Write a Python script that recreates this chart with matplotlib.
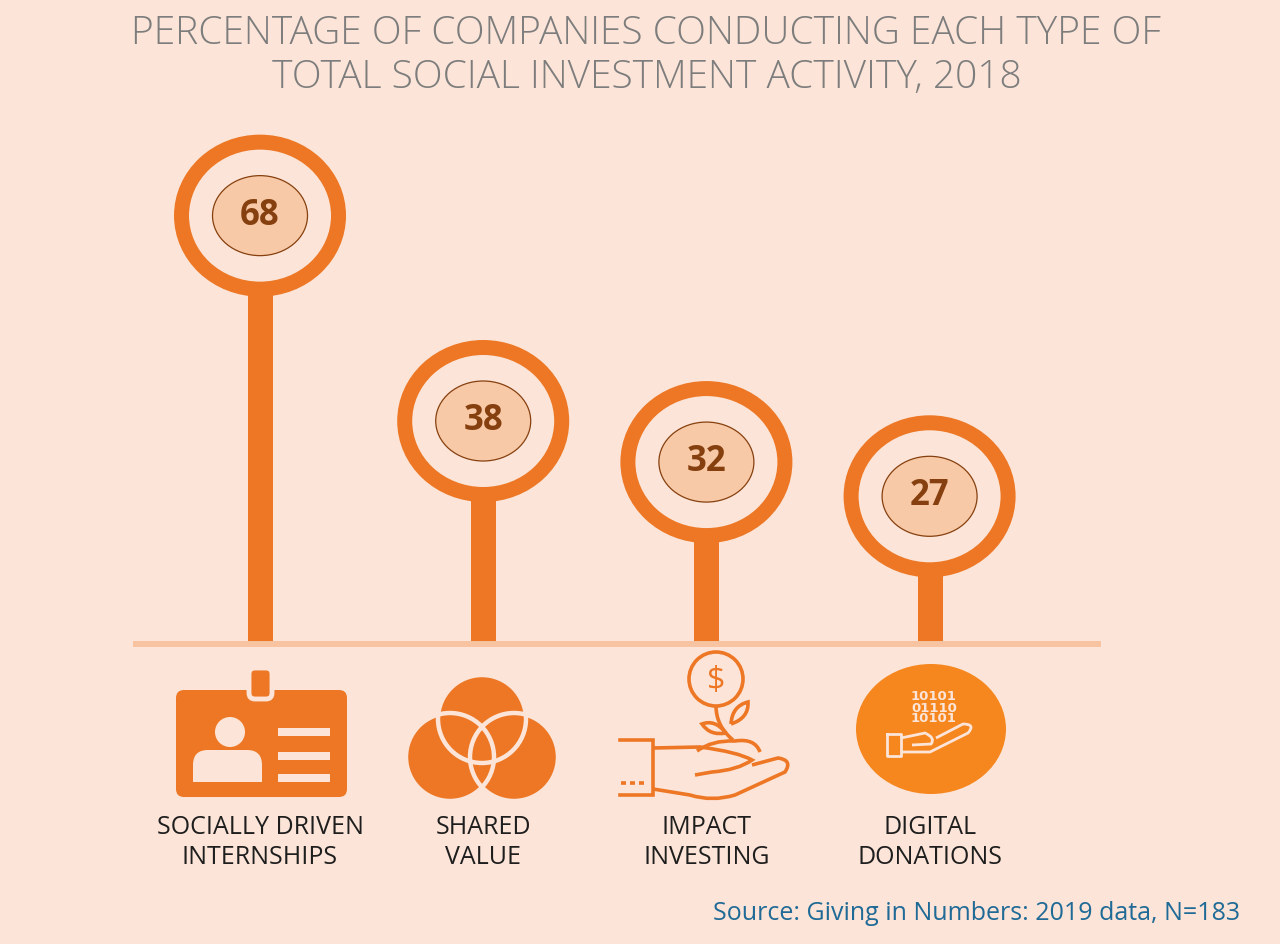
import matplotlib
matplotlib.use("Agg")
import matplotlib.pyplot as plt
from matplotlib.patches import Ellipse, Circle, Rectangle, FancyBboxPatch, PathPatch
from matplotlib.path import Path

plt.rcParams["font.family"] = ["Open Sans", "DejaVu Sans"]

# data
categories = ["SOCIALLY DRIVEN\nINTERNSHIPS", "SHARED\nVALUE", "IMPACT\nINVESTING", "DIGITAL\nDONATIONS"]
values = [68, 38, 32, 27]
title = "PERCENTAGE OF COMPANIES CONDUCTING EACH TYPE OF\nTOTAL SOCIAL INVESTMENT ACTIVITY, 2018"
source = "Source: Giving in Numbers: 2019 data, N=183"

BG = "#fce5d8"
ORANGE = "#ed7724"
PEACH = "#f8c9a7"
BROWN = "#86400f"
BASELINE = "#f7c3a0"

W, H = 1280, 944
fig = plt.figure(figsize=(W / 100, H / 100), dpi=100)
fig.patch.set_facecolor(BG)

# main axes: x = category index, y = percentage
ax = fig.add_axes([0, 0, 1, 1])
ax.set_xlim(-1.165, 4.57)
ax.set_ylim(-38.4, 99.5)
ax.axis("off")
px_x = W / (4.57 + 1.165)
px_y = H / (99.5 + 38.4)
base = 5.43

xs = list(range(len(values)))
ax.vlines(xs, base, values, color=ORANGE, lw=18, zorder=2)
ax.hlines(base, -0.57, 3.77, color=BASELINE, lw=4.3, zorder=3)

for xi, v in zip(xs, values):
    ax.add_patch(Ellipse((xi, v), (172 - 15) / px_x, (162 - 15) / px_y,
                         fc=BG, ec=ORANGE, lw=10.8, zorder=4))
    ax.add_patch(Ellipse((xi, v), 95 / px_x, 80 / px_y,
                         fc=PEACH, ec=BROWN, lw=0.9, zorder=5))
    ax.text(xi, v, str(v), ha="center", va="center", fontsize=25,
            fontweight="bold", color=BROWN, zorder=6)

for xi, lab in zip(xs, categories):
    ax.text(xi, -23.6, lab, ha="center", va="center", fontsize=18,
            color="#1e1e1e", linespacing=1.25)

fig.text(0.505, 1 - 56 / H, title, ha="center", va="center", fontsize=28,
         color="#7d7d7d", fontweight="light", linespacing=1.2)
fig.text(1240 / W, 1 - 914 / H, source, ha="right", va="center", fontsize=18,
         color="#1f6a96")

# icons drawn in a pixel overlay
ic = fig.add_axes([0, 0, 1, 1])
ic.set_xlim(0, W)
ic.set_ylim(H, 0)
ic.axis("off")
ic.patch.set_alpha(0)

# id badge
ic.add_patch(FancyBboxPatch((176, 690), 171, 107, boxstyle="round,pad=0,rounding_size=8", fc=ORANGE, ec="none"))
ic.add_patch(FancyBboxPatch((249, 668), 23, 31, boxstyle="round,pad=0,rounding_size=6", fc=ORANGE, ec=BG, lw=3.5))
ic.add_patch(Circle((230, 732), 15, fc=BG, ec="none"))
ic.add_patch(FancyBboxPatch((193, 750), 69, 32, boxstyle="round,pad=0,rounding_size=15", fc=BG, ec="none"))
ic.add_patch(Rectangle((193, 766), 69, 16, fc=BG, ec="none"))
for yb in (728, 752, 774):
    ic.add_patch(Rectangle((278, yb), 52, 8, fc=BG, ec="none"))

# venn
venn = [(482, 719), (450, 757), (514, 757)]
for c in venn:
    ic.add_patch(Circle(c, 44, fc=ORANGE, ec="none"))
for c in venn:
    ic.add_patch(Circle(c, 44, fc="none", ec=BG, lw=3.2))

# impact investing (line art)
LW = 2.6
ic.add_patch(Circle((716, 679), 27, fc="none", ec=ORANGE, lw=LW))
ic.text(716, 681, "$", ha="center", va="center", fontsize=23, color=ORANGE)
stem = Path([(716, 706), (716, 726), (733, 740)], [Path.MOVETO, Path.CURVE3, Path.CURVE3])
ic.add_patch(PathPatch(stem, fc="none", ec=ORANGE, lw=LW))
leaf_r = Path([(731, 724), (732, 706), (748, 702), (749, 718), (731, 724)],
              [Path.MOVETO, Path.CURVE3, Path.CURVE3, Path.CURVE3, Path.CURVE3])
ic.add_patch(PathPatch(leaf_r, fc="none", ec=ORANGE, lw=LW))
leaf_l = Path([(726, 733), (715, 719), (702, 724), (710, 736), (726, 733)],
              [Path.MOVETO, Path.CURVE3, Path.CURVE3, Path.CURVE3, Path.CURVE3])
ic.add_patch(PathPatch(leaf_l, fc="none", ec=ORANGE, lw=LW))
mound = Path([(697, 751), (712, 740), (735, 741), (755, 738), (760, 752)],
             [Path.MOVETO, Path.CURVE3, Path.CURVE3, Path.CURVE3, Path.CURVE3])
ic.add_patch(PathPatch(mound, fc="none", ec=ORANGE, lw=LW))
ic.plot([620, 653, 653, 620], [740, 740, 795, 795], color=ORANGE, lw=LW, solid_joinstyle="miter")
for xd in (621, 630, 639):
    ic.plot([xd, xd + 5], [783, 783], color=ORANGE, lw=LW, solid_capstyle="butt")
palm_top = Path([(653, 748), (700, 747), (738, 752), (752, 760), (738, 770), (712, 772), (695, 775)],
                [Path.MOVETO, Path.LINETO, Path.CURVE3, Path.CURVE3, Path.CURVE3, Path.CURVE3, Path.LINETO])
ic.add_patch(PathPatch(palm_top, fc="none", ec=ORANGE, lw=LW))
palm_bot = Path([(653, 789), (690, 795), (712, 802), (735, 795), (785, 772), (793, 760), (778, 758), (752, 765)],
                [Path.MOVETO, Path.LINETO, Path.CURVE3, Path.CURVE3, Path.LINETO, Path.CURVE3, Path.CURVE3, Path.LINETO])
ic.add_patch(PathPatch(palm_bot, fc="none", ec=ORANGE, lw=LW))

# digital donations
ic.add_patch(Ellipse((931, 729), 150, 130, fc="#f6871e", ec="none"))
ic.text(934, 708, "10101\n01110\n10101", ha="center", va="center", fontsize=9.5,
        fontweight="bold", color=BG, linespacing=0.8, family="DejaVu Sans")
LW2 = 2.0
ic.plot([887, 901, 901, 887, 887], [734, 734, 756, 756, 734], color=BG, lw=LW2)
hand_top = Path([(901, 738), (925, 733), (936, 738), (931, 744), (912, 745)],
                [Path.MOVETO, Path.LINETO, Path.CURVE3, Path.CURVE3, Path.LINETO])
ic.add_patch(PathPatch(hand_top, fc="none", ec=BG, lw=LW2))
hand_bot = Path([(901, 752), (930, 752), (968, 733), (976, 724), (963, 724), (936, 738)],
                [Path.MOVETO, Path.LINETO, Path.LINETO, Path.CURVE3, Path.CURVE3, Path.LINETO])
ic.add_patch(PathPatch(hand_bot, fc="none", ec=BG, lw=LW2))

fig.savefig("out.png", dpi=100, facecolor=BG)
